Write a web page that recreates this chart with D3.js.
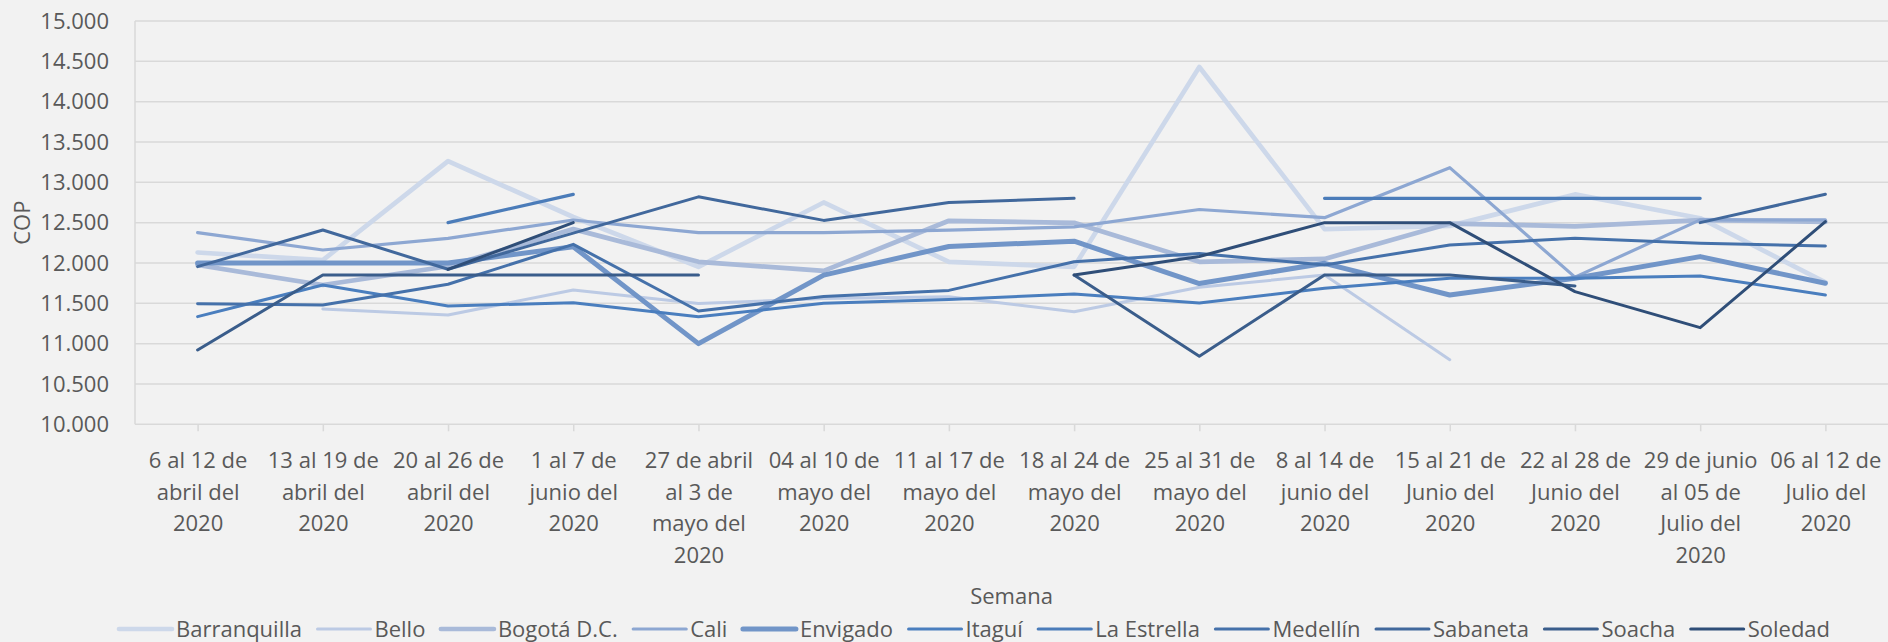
<!DOCTYPE html>
<html>
<head>
<meta charset="utf-8">
<script src="https://cdn.jsdelivr.net/npm/d3@7/dist/d3.min.js"></script>
<style>
body { margin: 0; background: #f2f2f2; }
text { font-family: "Open Sans", sans-serif; fill: #595959; }
</style>
</head>
<body>
<div id="chart"></div>
<script>
// semanas (eje x), saltos de linea como en la grafica
var semanas = [
    "6 al 12 de|abril del|2020",
    "13 al 19 de|abril del|2020",
    "20 al 26 de|abril del|2020",
    "1 al 7 de|junio del|2020",
    "27 de abril|al 3 de|mayo del|2020",
    "04 al 10 de|mayo del|2020",
    "11 al 17 de|mayo del|2020",
    "18 al 24 de|mayo del|2020",
    "25 al 31 de|mayo del|2020",
    "8 al 14 de|junio del|2020",
    "15 al 21 de|Junio del|2020",
    "22 al 28 de|Junio del|2020",
    "29 de junio|al 05 de|Julio del|2020",
    "06 al 12 de|Julio del|2020"
];

var ciudades = ["Barranquilla", "Bello", "Bogotá D.C.", "Cali", "Envigado", "Itaguí",
    "La Estrella", "Medellín", "Sabaneta", "Soacha", "Soledad"];

var yTicks = [10000, 10500, 11000, 11500, 12000, 12500, 13000, 13500, 14000, 14500, 15000];

// precios por semana (null = sin dato)
var barranquilla = [12130, 12035, 13262, 12570, 11952, 12750, 12014, 11952, 14430, 12420, 12460, 12850, 12555, 11760];
var bello        = [null, 11430, 11355, 11665, 11497, 11559, 11580, 11395, 11700, 11850, 10800, null, null, null];
var bogota       = [11975, 11727, 11960, 12420, 12014, 11902, 12523, 12498, 12014, 12050, 12489, 12455, 12532, 12510];
var cali         = [12376, 12161, 12306, 12533, 12376, 12376, 12407, 12448, 12663, 12562, 13182, 11825, 12534, 12534];
var envigado     = [12000, 12000, 12000, 12202, 11000, 11849, 12205, 12270, 11745, 11996, 11603, 11810, 12079, 11748];
var itagui       = [11335, 11727, 11467, 11508, 11333, 11500, 11548, 11615, 11505, 11686, 11810, 11810, 11839, 11603];
var laEstrella   = [null, null, 12500, 12851, null, null, null, null, null, 12802, 12802, 12802, 12802, null];
var medellin     = [11496, 11479, 11736, 12231, 11405, 11585, 11660, 12016, 12118, 11975, 12223, 12306, 12244, 12211];
var sabaneta     = [11955, 12409, 11922, 12370, 12820, 12528, 12749, 12801, null, null, null, null, 12500, 12851];
var soacha       = [10922, 11851, 11851, 11851, 11851, null, null, 11850, 10845, 11851, 11851, 11716, null, null];
var soledad      = [null, null, 11920, 12500, null, null, null, 11850, 12080, 12500, 12500, 11645, 11198, 12512];

var colores = ["#cdd8ea", "#bccae4", "#a9bad9", "#8da7d2", "#7195c8", "#4a7ebe",
    "#4b7cb9", "#4571aa", "#41689c", "#3a5d8b", "#2f4e78"];
var grosores = [4.7, 3, 4.7, 3.2, 5, 3, 3.2, 3, 3, 3, 3];

function init(){

    var w = 1888;
    var h = 642;

    var svg = d3.select("#chart")
        .append("svg")
        .attr("width", w)
        .attr("height", h);

    svg.append("rect")
        .attr("width", w)
        .attr("height", h)
        .attr("fill", "#f2f2f2");

    var left = 135, right = 1888, top = 21, bottom = 424.3;

    var x = d3.scalePoint()
        .domain(d3.range(semanas.length))
        .range([left, right])
        .padding(0.5);

    var y = d3.scaleLinear()
        .domain([10000, 15000])
        .range([bottom, top]);

    var es = d3.formatLocale({decimal: ",", thousands: ".", grouping: [3], currency: ["$", ""]});
    var fmt = es.format(",.0f");

    // lineas de cuadricula
    svg.append("g")
        .selectAll("line")
        .data(yTicks)
        .enter()
        .append("line")
        .attr("x1", left)
        .attr("x2", right)
        .attr("y1", function(d) { return y(d); })
        .attr("y2", function(d) { return y(d); })
        .attr("stroke", "#d9d9d9")
        .attr("stroke-width", 1.5);

    svg.append("line")
        .attr("x1", left).attr("x2", left)
        .attr("y1", top).attr("y2", bottom)
        .attr("stroke", "#d9d9d9")
        .attr("stroke-width", 1.5);

    // eje y
    var yAxis = svg.append("g")
        .attr("transform", "translate(" + left + ",0)")
        .call(d3.axisLeft(y).tickValues(yTicks).tickSize(0).tickPadding(26).tickFormat(fmt));
    yAxis.select(".domain").remove();
    yAxis.selectAll("text")
        .attr("font-size", 22)
        .attr("font-family", "Open Sans")
        .attr("fill", "#595959");

    // eje x
    var xAxis = svg.append("g")
        .attr("transform", "translate(0," + bottom + ")")
        .call(d3.axisBottom(x).tickSize(7).tickFormat(""));
    xAxis.select(".domain").remove();
    xAxis.selectAll(".tick line")
        .attr("stroke", "#d9d9d9")
        .attr("stroke-width", 1.5);
    xAxis.selectAll(".tick text").each(function(d) {
        var t = d3.select(this)
            .attr("y", 43.7)
            .attr("dy", null)
            .attr("font-size", 22)
            .attr("font-family", "Open Sans")
            .attr("fill", "#595959");
        semanas[d].split("|").forEach(function(l, k) {
            t.append("tspan")
                .attr("x", 0)
                .attr("dy", k ? 31.7 : 0)
                .text(l);
        });
    });

    // series
    var datos = [barranquilla, bello, bogota, cali, envigado, itagui,
        laEstrella, medellin, sabaneta, soacha, soledad];

    var line = d3.line()
        .defined(function(d) { return d != null; })
        .x(function(d, i) { return x(i); })
        .y(function(d) { return y(d); });

    svg.append("g")
        .selectAll("path")
        .data(datos)
        .enter()
        .append("path")
        .attr("d", line)
        .attr("fill", "none")
        .attr("stroke", function(d, i) { return colores[i]; })
        .attr("stroke-width", function(d, i) { return grosores[i]; })
        .attr("stroke-linecap", "round")
        .attr("stroke-linejoin", "round");

    // titulos de ejes
    svg.append("text")
        .attr("transform", "translate(21," + ((top + bottom) / 2) + ") rotate(-90)")
        .attr("text-anchor", "middle")
        .attr("dominant-baseline", "central")
        .attr("font-size", 22)
        .text("COP");

    svg.append("text")
        .attr("x", (left + right) / 2)
        .attr("y", 604)
        .attr("text-anchor", "middle")
        .attr("font-size", 22)
        .text("Semana");

    // leyenda
    var leg = svg.append("g");
    var lx = 119;
    ciudades.forEach(function(c, i) {
        leg.append("line")
            .attr("x1", lx).attr("x2", lx + 53)
            .attr("y1", 629).attr("y2", 629)
            .attr("stroke", colores[i])
            .attr("stroke-width", grosores[i])
            .attr("stroke-linecap", "round");
        var t = leg.append("text")
            .attr("x", lx + 57)
            .attr("y", 637)
            .attr("font-size", 22)
            .text(c);
        lx += 57 + t.node().getComputedTextLength() + 15.5;
    });
}
window.onload = init;
</script>
</body>
</html>
